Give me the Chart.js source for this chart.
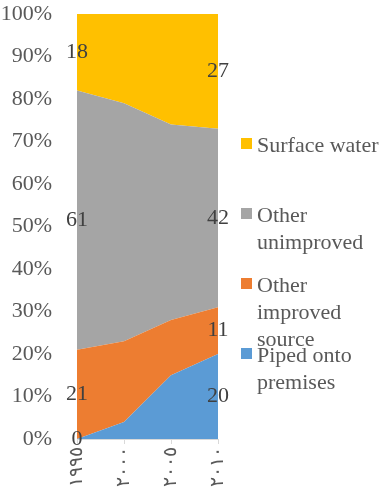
<!DOCTYPE html>
<html>
<head>
<meta charset="utf-8">
<script src="https://cdn.jsdelivr.net/npm/chart.js@4/dist/chart.umd.min.js"></script>
<style>
  html, body { margin: 0; padding: 0; background: #ffffff; }
  #wrap { width: 383px; height: 504px; }
</style>
</head>
<body>
<div id="wrap"><canvas id="chart" width="383" height="504"></canvas></div>
<script>

/**********/
/********** DATA **********/
/**********/

const years = ['١٩٩٥', '٢٠٠٠', '٢٠٠٥', '٢٠١٠']
const seriesNames = ['Piped onto premises', 'Other improved source', 'Other unimproved', 'Surface water']
const piped = [0, 4, 15, 20]
const improved = [21, 19, 13, 11]
const unimproved = [61, 56, 46, 42]
const surface = [18, 21, 26, 27]
const yTicks = [0, 10, 20, 30, 40, 50, 60, 70, 80, 90, 100]

const colors = ['#5B9BD5', '#ED7D31', '#A5A5A5', '#FFC000']
const serif = "'Liberation Serif', 'Times New Roman', serif"

/************************************************************/

const makeSet = (label, values, color, i) => ({
  label: label,
  data: values,
  backgroundColor: color,
  borderColor: color,
  borderWidth: 0,
  pointRadius: 0,
  tension: 0,
  fill: i === 0 ? 'origin' : '-1'
})

const datasets = [piped, improved, unimproved, surface].map((v, i) => makeSet(seriesNames[i], v, colors[i], i))

/**********/
/********** VALUE LABELS (first and last year only) **********/
/**********/

const valueLabels = {
  id: 'valueLabels',
  afterDatasetsDraw: (chart) => {
    const ctx = chart.ctx
    const yScale = chart.scales.y
    const sets = chart.data.datasets
    const last = chart.data.labels.length - 1
    ctx.save()
    ctx.font = '22px ' + serif
    ctx.fillStyle = '#404040'
    ctx.textAlign = 'center'
    ctx.textBaseline = 'middle'
    ;[0, last].forEach((idx) => {
      let base = 0
      sets.forEach((ds, d) => {
        const v = ds.data[idx]
        const x = chart.getDatasetMeta(d).data[idx].x
        const y = yScale.getPixelForValue(base + v / 2)
        ctx.fillText(String(v), x, y)
        base += v
      })
    })
    ctx.restore()
  }
}

/**********/
/********** SIDE LEGEND (wrapped text, top entry = top series) **********/
/**********/

const wrapText = (ctx, text, maxWidth) => {
  const words = text.split(' ')
  let lines = []
  let line = ''
  words.forEach((w) => {
    const test = line ? line + ' ' + w : w
    if (line && ctx.measureText(test).width > maxWidth) {
      lines.push(line)
      line = w
    } else {
      line = test
    }
  })
  lines.push(line)
  return lines
}

const sideLegend = {
  id: 'sideLegend',
  afterDraw: (chart) => {
    const ctx = chart.ctx
    const sets = chart.data.datasets.slice().reverse()
    ctx.save()
    ctx.font = '22px ' + serif
    ctx.textAlign = 'left'
    ctx.textBaseline = 'alphabetic'
    sets.forEach((ds, i) => {
      const baseY = 152 + i * 70
      ctx.fillStyle = ds.backgroundColor
      ctx.fillRect(241, baseY - 14, 11, 11)
      ctx.fillStyle = '#595959'
      wrapText(ctx, ds.label, 125).forEach((ln, k) => {
        ctx.fillText(ln, 257, baseY + k * 27)
      })
    })
    ctx.restore()
  }
}

/**********/
/********** CHART **********/
/**********/

new Chart(document.getElementById('chart'), {
  type: 'line',
  data: { labels: years, datasets: datasets },
  plugins: [valueLabels, sideLegend],
  options: {
    responsive: false,
    animation: false,
    layout: { padding: { top: 14, right: 165, left: 0, bottom: 0 } },
    plugins: {
      legend: { display: false },
      tooltip: { enabled: false }
    },
    scales: {
      x: {
        offset: false,
        grid: { drawOnChartArea: false, color: '#D9D9D9', tickLength: 5 },
        border: { color: '#D9D9D9' },
        ticks: {
          minRotation: 90,
          maxRotation: 90,
          padding: 3,
          color: '#595959',
          font: { family: serif, size: 19 }
        },
        afterFit: (scale) => {
          scale.height = 65
          scale.paddingLeft = 0
          scale.paddingRight = 0
        }
      },
      y: {
        stacked: true,
        min: 0,
        max: 100,
        afterBuildTicks: (scale) => { scale.ticks = yTicks.map((v) => ({ value: v })) },
        grid: { display: false },
        border: { display: false },
        ticks: {
          padding: 17,
          color: '#595959',
          font: { family: serif, size: 22 },
          callback: (v) => v + '%'
        },
        afterFit: (scale) => {
          scale.width = 77
          scale.paddingTop = 0
          scale.paddingBottom = 0
        }
      }
    }
  }
})

</script>
</body>
</html>
